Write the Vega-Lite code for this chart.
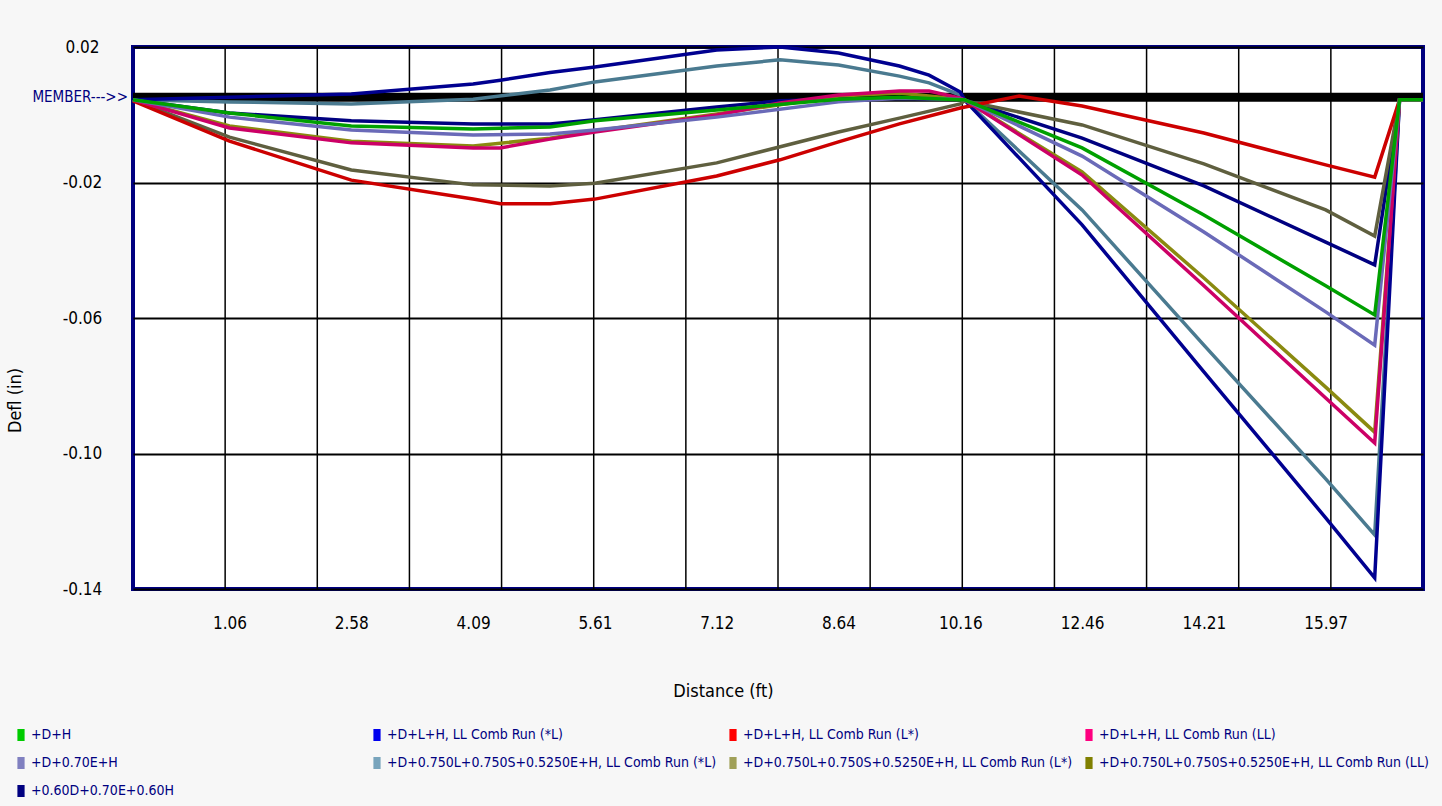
{
  "$schema": "https://vega.github.io/schema/vega-lite/v6.json",
  "width": 1290,
  "height": 542,
  "autosize": "none",
  "padding": {"left": 133, "top": 47, "right": 19, "bottom": 217},
  "background": "#f7f7f7",
  "config": {
    "view": {"fill": "#ffffff", "stroke": "#000080", "strokeWidth": 4},
    "font": "DejaVu Sans Condensed, DejaVu Sans, sans-serif",
    "axis": {"domain": false, "ticks": false, "labelColor": "#000000", "titleColor": "#000000", "titleFontWeight": "normal", "labelFont": "DejaVu Sans Condensed, DejaVu Sans, sans-serif", "titleFont": "DejaVu Sans Condensed, DejaVu Sans, sans-serif"}
  },
  "datasets": {
    "series": [
      {"s": "+0.60D+0.70E+0.60H", "d": 0, "v": 0.0044}, {"s": "+0.60D+0.70E+0.60H", "d": 1.06, "v": 0.0005}, {"s": "+0.60D+0.70E+0.60H", "d": 2.58, "v": -0.0018}, {"s": "+0.60D+0.70E+0.60H", "d": 4.09, "v": -0.0027}, {"s": "+0.60D+0.70E+0.60H", "d": 5.05, "v": -0.0027}, {"s": "+0.60D+0.70E+0.60H", "d": 5.61, "v": -0.0015}, {"s": "+0.60D+0.70E+0.60H", "d": 7.12, "v": 0.0023}, {"s": "+0.60D+0.70E+0.60H", "d": 7.91, "v": 0.0041}, {"s": "+0.60D+0.70E+0.60H", "d": 8.64, "v": 0.0046}, {"s": "+0.60D+0.70E+0.60H", "d": 9.4, "v": 0.0049}, {"s": "+0.60D+0.70E+0.60H", "d": 10.16, "v": 0.0046}, {"s": "+0.60D+0.70E+0.60H", "d": 10.24, "v": 0.0044}, {"s": "+0.60D+0.70E+0.60H", "d": 12.46, "v": -0.0069}, {"s": "+0.60D+0.70E+0.60H", "d": 14.21, "v": -0.021}, {"s": "+0.60D+0.70E+0.60H", "d": 15.97, "v": -0.0376}, {"s": "+0.60D+0.70E+0.60H", "d": 16.68, "v": -0.0443}, {"s": "+0.60D+0.70E+0.60H", "d": 17.04, "v": 0.0044}, {"s": "+0.60D+0.70E+0.60H", "d": 17.38, "v": 0.0044},

      {"s": "+D+0.750L+0.750S+0.5250E+H, LL Comb Run (*L)", "d": 0, "v": 0.0044}, {"s": "+D+0.750L+0.750S+0.5250E+H, LL Comb Run (*L)", "d": 1.06, "v": 0.0038}, {"s": "+D+0.750L+0.750S+0.5250E+H, LL Comb Run (*L)", "d": 2.58, "v": 0.0032}, {"s": "+D+0.750L+0.750S+0.5250E+H, LL Comb Run (*L)", "d": 4.09, "v": 0.0046}, {"s": "+D+0.750L+0.750S+0.5250E+H, LL Comb Run (*L)", "d": 5.05, "v": 0.0073}, {"s": "+D+0.750L+0.750S+0.5250E+H, LL Comb Run (*L)", "d": 5.61, "v": 0.0097}, {"s": "+D+0.750L+0.750S+0.5250E+H, LL Comb Run (*L)", "d": 7.12, "v": 0.0144}, {"s": "+D+0.750L+0.750S+0.5250E+H, LL Comb Run (*L)", "d": 7.91, "v": 0.0162}, {"s": "+D+0.750L+0.750S+0.5250E+H, LL Comb Run (*L)", "d": 8.64, "v": 0.0147}, {"s": "+D+0.750L+0.750S+0.5250E+H, LL Comb Run (*L)", "d": 9.4, "v": 0.0114}, {"s": "+D+0.750L+0.750S+0.5250E+H, LL Comb Run (*L)", "d": 9.77, "v": 0.0094}, {"s": "+D+0.750L+0.750S+0.5250E+H, LL Comb Run (*L)", "d": 10.16, "v": 0.0058}, {"s": "+D+0.750L+0.750S+0.5250E+H, LL Comb Run (*L)", "d": 10.24, "v": 0.0044}, {"s": "+D+0.750L+0.750S+0.5250E+H, LL Comb Run (*L)", "d": 12.46, "v": -0.0281}, {"s": "+D+0.750L+0.750S+0.5250E+H, LL Comb Run (*L)", "d": 14.21, "v": -0.068}, {"s": "+D+0.750L+0.750S+0.5250E+H, LL Comb Run (*L)", "d": 15.97, "v": -0.1075}, {"s": "+D+0.750L+0.750S+0.5250E+H, LL Comb Run (*L)", "d": 16.68, "v": -0.124}, {"s": "+D+0.750L+0.750S+0.5250E+H, LL Comb Run (*L)", "d": 17.04, "v": 0.0044}, {"s": "+D+0.750L+0.750S+0.5250E+H, LL Comb Run (*L)", "d": 17.38, "v": 0.0044},

      {"s": "+D+L+H, LL Comb Run (*L)", "d": 0, "v": 0.0044}, {"s": "+D+L+H, LL Comb Run (*L)", "d": 1.06, "v": 0.0052}, {"s": "+D+L+H, LL Comb Run (*L)", "d": 2.58, "v": 0.0061}, {"s": "+D+L+H, LL Comb Run (*L)", "d": 4.09, "v": 0.0091}, {"s": "+D+L+H, LL Comb Run (*L)", "d": 4.43, "v": 0.0102}, {"s": "+D+L+H, LL Comb Run (*L)", "d": 5.05, "v": 0.0125}, {"s": "+D+L+H, LL Comb Run (*L)", "d": 5.61, "v": 0.0141}, {"s": "+D+L+H, LL Comb Run (*L)", "d": 7.12, "v": 0.0191}, {"s": "+D+L+H, LL Comb Run (*L)", "d": 7.91, "v": 0.02}, {"s": "+D+L+H, LL Comb Run (*L)", "d": 8.64, "v": 0.0182}, {"s": "+D+L+H, LL Comb Run (*L)", "d": 9.4, "v": 0.0144}, {"s": "+D+L+H, LL Comb Run (*L)", "d": 9.77, "v": 0.0117}, {"s": "+D+L+H, LL Comb Run (*L)", "d": 10.16, "v": 0.0067}, {"s": "+D+L+H, LL Comb Run (*L)", "d": 10.24, "v": 0.0044}, {"s": "+D+L+H, LL Comb Run (*L)", "d": 12.46, "v": -0.0325}, {"s": "+D+L+H, LL Comb Run (*L)", "d": 14.21, "v": -0.0759}, {"s": "+D+L+H, LL Comb Run (*L)", "d": 15.97, "v": -0.119}, {"s": "+D+L+H, LL Comb Run (*L)", "d": 16.68, "v": -0.1367}, {"s": "+D+L+H, LL Comb Run (*L)", "d": 17.04, "v": 0.0044}, {"s": "+D+L+H, LL Comb Run (*L)", "d": 17.38, "v": 0.0044},

      {"s": "+D+0.750L+0.750S+0.5250E+H, LL Comb Run (L*)", "d": 0, "v": 0.0044}, {"s": "+D+0.750L+0.750S+0.5250E+H, LL Comb Run (L*)", "d": 1.06, "v": -0.0066}, {"s": "+D+0.750L+0.750S+0.5250E+H, LL Comb Run (L*)", "d": 2.58, "v": -0.0163}, {"s": "+D+0.750L+0.750S+0.5250E+H, LL Comb Run (L*)", "d": 4.09, "v": -0.0207}, {"s": "+D+0.750L+0.750S+0.5250E+H, LL Comb Run (L*)", "d": 5.05, "v": -0.021}, {"s": "+D+0.750L+0.750S+0.5250E+H, LL Comb Run (L*)", "d": 5.61, "v": -0.0202}, {"s": "+D+0.750L+0.750S+0.5250E+H, LL Comb Run (L*)", "d": 7.12, "v": -0.0142}, {"s": "+D+0.750L+0.750S+0.5250E+H, LL Comb Run (L*)", "d": 8.64, "v": -0.0051}, {"s": "+D+0.750L+0.750S+0.5250E+H, LL Comb Run (L*)", "d": 9.4, "v": -0.001}, {"s": "+D+0.750L+0.750S+0.5250E+H, LL Comb Run (L*)", "d": 10.16, "v": 0.0032}, {"s": "+D+0.750L+0.750S+0.5250E+H, LL Comb Run (L*)", "d": 10.24, "v": 0.0041}, {"s": "+D+0.750L+0.750S+0.5250E+H, LL Comb Run (L*)", "d": 12.46, "v": -0.003}, {"s": "+D+0.750L+0.750S+0.5250E+H, LL Comb Run (L*)", "d": 14.21, "v": -0.0145}, {"s": "+D+0.750L+0.750S+0.5250E+H, LL Comb Run (L*)", "d": 15.97, "v": -0.0281}, {"s": "+D+0.750L+0.750S+0.5250E+H, LL Comb Run (L*)", "d": 16.68, "v": -0.0358}, {"s": "+D+0.750L+0.750S+0.5250E+H, LL Comb Run (L*)", "d": 17.04, "v": 0.0044}, {"s": "+D+0.750L+0.750S+0.5250E+H, LL Comb Run (L*)", "d": 17.38, "v": 0.0044},

      {"s": "+D+L+H, LL Comb Run (L*)", "d": 0, "v": 0.0041}, {"s": "+D+L+H, LL Comb Run (L*)", "d": 1.06, "v": -0.0078}, {"s": "+D+L+H, LL Comb Run (L*)", "d": 2.58, "v": -0.0193}, {"s": "+D+L+H, LL Comb Run (L*)", "d": 4.09, "v": -0.0249}, {"s": "+D+L+H, LL Comb Run (L*)", "d": 4.43, "v": -0.0263}, {"s": "+D+L+H, LL Comb Run (L*)", "d": 5.05, "v": -0.0263}, {"s": "+D+L+H, LL Comb Run (L*)", "d": 5.61, "v": -0.0249}, {"s": "+D+L+H, LL Comb Run (L*)", "d": 7.12, "v": -0.0181}, {"s": "+D+L+H, LL Comb Run (L*)", "d": 7.91, "v": -0.0133}, {"s": "+D+L+H, LL Comb Run (L*)", "d": 8.64, "v": -0.008}, {"s": "+D+L+H, LL Comb Run (L*)", "d": 9.4, "v": -0.0027}, {"s": "+D+L+H, LL Comb Run (L*)", "d": 10.16, "v": 0.002}, {"s": "+D+L+H, LL Comb Run (L*)", "d": 10.91, "v": 0.0044}, {"s": "+D+L+H, LL Comb Run (L*)", "d": 11.27, "v": 0.0055}, {"s": "+D+L+H, LL Comb Run (L*)", "d": 12.46, "v": 0.0026}, {"s": "+D+L+H, LL Comb Run (L*)", "d": 14.21, "v": -0.0054}, {"s": "+D+L+H, LL Comb Run (L*)", "d": 15.97, "v": -0.0148}, {"s": "+D+L+H, LL Comb Run (L*)", "d": 16.68, "v": -0.0184}, {"s": "+D+L+H, LL Comb Run (L*)", "d": 17.04, "v": 0.0044}, {"s": "+D+L+H, LL Comb Run (L*)", "d": 17.38, "v": 0.0044},

      {"s": "+D+0.750L+0.750S+0.5250E+H, LL Comb Run (LL)", "d": 0, "v": 0.0044}, {"s": "+D+0.750L+0.750S+0.5250E+H, LL Comb Run (LL)", "d": 1.06, "v": -0.0033}, {"s": "+D+0.750L+0.750S+0.5250E+H, LL Comb Run (LL)", "d": 2.58, "v": -0.0078}, {"s": "+D+0.750L+0.750S+0.5250E+H, LL Comb Run (LL)", "d": 4.09, "v": -0.0092}, {"s": "+D+0.750L+0.750S+0.5250E+H, LL Comb Run (LL)", "d": 5.05, "v": -0.0069}, {"s": "+D+0.750L+0.750S+0.5250E+H, LL Comb Run (LL)", "d": 5.61, "v": -0.0048}, {"s": "+D+0.750L+0.750S+0.5250E+H, LL Comb Run (LL)", "d": 7.12, "v": 0.0002}, {"s": "+D+0.750L+0.750S+0.5250E+H, LL Comb Run (LL)", "d": 8.64, "v": 0.0055}, {"s": "+D+0.750L+0.750S+0.5250E+H, LL Comb Run (LL)", "d": 9.4, "v": 0.0064}, {"s": "+D+0.750L+0.750S+0.5250E+H, LL Comb Run (LL)", "d": 10.16, "v": 0.0046}, {"s": "+D+0.750L+0.750S+0.5250E+H, LL Comb Run (LL)", "d": 10.24, "v": 0.0044}, {"s": "+D+0.750L+0.750S+0.5250E+H, LL Comb Run (LL)", "d": 12.46, "v": -0.0169}, {"s": "+D+0.750L+0.750S+0.5250E+H, LL Comb Run (LL)", "d": 14.21, "v": -0.0482}, {"s": "+D+0.750L+0.750S+0.5250E+H, LL Comb Run (LL)", "d": 15.97, "v": -0.0804}, {"s": "+D+0.750L+0.750S+0.5250E+H, LL Comb Run (LL)", "d": 16.68, "v": -0.0937}, {"s": "+D+0.750L+0.750S+0.5250E+H, LL Comb Run (LL)", "d": 17.04, "v": 0.0044}, {"s": "+D+0.750L+0.750S+0.5250E+H, LL Comb Run (LL)", "d": 17.38, "v": 0.0044},

      {"s": "+D+L+H, LL Comb Run (LL)", "d": 0, "v": 0.0044}, {"s": "+D+L+H, LL Comb Run (LL)", "d": 1.06, "v": -0.0039}, {"s": "+D+L+H, LL Comb Run (LL)", "d": 2.58, "v": -0.0083}, {"s": "+D+L+H, LL Comb Run (LL)", "d": 4.09, "v": -0.0098}, {"s": "+D+L+H, LL Comb Run (LL)", "d": 4.43, "v": -0.0098}, {"s": "+D+L+H, LL Comb Run (LL)", "d": 5.05, "v": -0.0072}, {"s": "+D+L+H, LL Comb Run (LL)", "d": 5.61, "v": -0.0051}, {"s": "+D+L+H, LL Comb Run (LL)", "d": 7.12, "v": -0.0001}, {"s": "+D+L+H, LL Comb Run (LL)", "d": 7.91, "v": 0.0035}, {"s": "+D+L+H, LL Comb Run (LL)", "d": 8.64, "v": 0.0058}, {"s": "+D+L+H, LL Comb Run (LL)", "d": 9.4, "v": 0.007}, {"s": "+D+L+H, LL Comb Run (LL)", "d": 9.77, "v": 0.007}, {"s": "+D+L+H, LL Comb Run (LL)", "d": 10.16, "v": 0.0049}, {"s": "+D+L+H, LL Comb Run (LL)", "d": 10.24, "v": 0.0044}, {"s": "+D+L+H, LL Comb Run (LL)", "d": 12.46, "v": -0.0178}, {"s": "+D+L+H, LL Comb Run (LL)", "d": 14.21, "v": -0.0505}, {"s": "+D+L+H, LL Comb Run (LL)", "d": 15.97, "v": -0.0836}, {"s": "+D+L+H, LL Comb Run (LL)", "d": 16.68, "v": -0.0969}, {"s": "+D+L+H, LL Comb Run (LL)", "d": 17.04, "v": 0.0044}, {"s": "+D+L+H, LL Comb Run (LL)", "d": 17.38, "v": 0.0044},

      {"s": "+D+0.70E+H", "d": 0, "v": 0.0044}, {"s": "+D+0.70E+H", "d": 1.06, "v": -0.0007}, {"s": "+D+0.70E+H", "d": 2.58, "v": -0.0045}, {"s": "+D+0.70E+H", "d": 4.09, "v": -0.006}, {"s": "+D+0.70E+H", "d": 5.05, "v": -0.0057}, {"s": "+D+0.70E+H", "d": 5.61, "v": -0.0045}, {"s": "+D+0.70E+H", "d": 7.12, "v": -0.0007}, {"s": "+D+0.70E+H", "d": 8.64, "v": 0.0038}, {"s": "+D+0.70E+H", "d": 9.4, "v": 0.0049}, {"s": "+D+0.70E+H", "d": 10.16, "v": 0.0046}, {"s": "+D+0.70E+H", "d": 10.24, "v": 0.0044}, {"s": "+D+0.70E+H", "d": 12.46, "v": -0.0122}, {"s": "+D+0.70E+H", "d": 14.21, "v": -0.0346}, {"s": "+D+0.70E+H", "d": 15.97, "v": -0.0582}, {"s": "+D+0.70E+H", "d": 16.68, "v": -0.068}, {"s": "+D+0.70E+H", "d": 17.04, "v": 0.0044}, {"s": "+D+0.70E+H", "d": 17.38, "v": 0.0044},

      {"s": "+D+H", "d": 0, "v": 0.0044}, {"s": "+D+H", "d": 1.06, "v": 0.0005}, {"s": "+D+H", "d": 2.58, "v": -0.0033}, {"s": "+D+H", "d": 4.09, "v": -0.0042}, {"s": "+D+H", "d": 5.05, "v": -0.0036}, {"s": "+D+H", "d": 5.61, "v": -0.0018}, {"s": "+D+H", "d": 7.12, "v": 0.0014}, {"s": "+D+H", "d": 8.64, "v": 0.0046}, {"s": "+D+H", "d": 9.4, "v": 0.0052}, {"s": "+D+H", "d": 10.16, "v": 0.0044}, {"s": "+D+H", "d": 10.24, "v": 0.0044}, {"s": "+D+H", "d": 12.46, "v": -0.0098}, {"s": "+D+H", "d": 14.21, "v": -0.0296}, {"s": "+D+H", "d": 15.97, "v": -0.0505}, {"s": "+D+H", "d": 16.68, "v": -0.0591}, {"s": "+D+H", "d": 17.04, "v": 0.0044}, {"s": "+D+H", "d": 17.38, "v": 0.0044}
    ]
  },
  "layer": [
    {
      "data": {"values": [{"g": 1}, {"g": 2}, {"g": 3}, {"g": 4}, {"g": 5}, {"g": 6}, {"g": 7}, {"g": 8}, {"g": 9}, {"g": 10}, {"g": 11}, {"g": 12}, {"g": 13}]},
      "mark": {"type": "rule", "color": "#000000", "strokeWidth": 1.5},
      "encoding": {
        "x": {"field": "g", "type": "quantitative", "scale": {"domain": [0, 14], "nice": false, "zero": false}, "axis": null}
      }
    },
    {
      "layer": [
        {
          "data": {"values": [{"m": 0.0052}]},
          "mark": {"type": "rule", "color": "#000000", "strokeWidth": 9},
          "encoding": {"y": {"field": "m", "type": "quantitative"}}
        },
        {
          "data": {"name": "series"},
          "mark": {"type": "line", "strokeWidth": 3.5, "interpolate": "linear"},
          "encoding": {
            "x": {
              "field": "d", "type": "quantitative", "title": "Distance (ft)",
              "scale": {"domain": [0, 1.06, 2.58, 4.09, 5.61, 7.12, 8.64, 10.16, 12.46, 14.21, 15.97, 17.38], "range": [0, 96.5, 218.3, 340.1, 461.9, 583.7, 705.5, 827.3, 949.1, 1070.9, 1192.7, 1290], "nice": false, "zero": false},
              "axis": {"values": [1.06, 2.58, 4.09, 5.61, 7.12, 8.64, 10.16, 12.46, 14.21, 15.97], "format": ".2f", "grid": false, "labelFontSize": 17, "labelPadding": 26, "titleFontSize": 18, "titleX": 590, "titleY": 102, "titleBaseline": "middle", "titleAlign": "center"}
            },
            "y": {
              "field": "v", "type": "quantitative", "title": "Defl (in)",
              "scale": {"domain": [-0.14, 0.02], "nice": false, "zero": false},
              "axis": {"values": [0.02, -0.02, -0.06, -0.1, -0.14], "labelExpr": "datum.value < 0 ? '-' + format(-datum.value, '.2f') : format(datum.value, '.2f')", "grid": true, "gridColor": "#000000", "gridWidth": 2, "gridOpacity": 1, "labelFontSize": 17, "labelAlign": "center", "labelPadding": 51, "titleFontSize": 18, "titleX": -118, "titleY": 353, "titleAngle": -90, "titleBaseline": "middle", "titleAlign": "center"}
            },
            "stroke": {
              "field": "s", "type": "nominal", "legend": null,
              "scale": {
                "domain": ["+0.60D+0.70E+0.60H", "+D+0.750L+0.750S+0.5250E+H, LL Comb Run (*L)", "+D+L+H, LL Comb Run (*L)", "+D+0.750L+0.750S+0.5250E+H, LL Comb Run (L*)", "+D+L+H, LL Comb Run (L*)", "+D+0.750L+0.750S+0.5250E+H, LL Comb Run (LL)", "+D+L+H, LL Comb Run (LL)", "+D+0.70E+H", "+D+H"],
                "range": ["#000080", "#4a7a90", "#000090", "#5f5f3f", "#cc0000", "#8a8a10", "#cc0066", "#6a6ab8", "#00a000"]
              }
            }
          }
        },
        {
          "data": {"name": "series"},
          "transform": [{"filter": "datum.v > 1"}],
          "mark": {"type": "square", "filled": true, "opacity": 1},
          "encoding": {
            "x": {"field": "d", "type": "quantitative"},
            "y": {"field": "v", "type": "quantitative"},
            "fill": {
              "field": "s", "type": "nominal",
              "scale": {
                "domain": ["+D+H", "+D+L+H, LL Comb Run (*L)", "+D+L+H, LL Comb Run (L*)", "+D+L+H, LL Comb Run (LL)", "+D+0.70E+H", "+D+0.750L+0.750S+0.5250E+H, LL Comb Run (*L)", "+D+0.750L+0.750S+0.5250E+H, LL Comb Run (L*)", "+D+0.750L+0.750S+0.5250E+H, LL Comb Run (LL)", "+0.60D+0.70E+0.60H"],
                "range": ["#00cc00", "#0000ee", "#ff0000", "#ff0080", "#8080c0", "#78a4bc", "#a0a058", "#808000", "#000080"]
              },
              "legend": {
                "title": null, "orient": "none", "legendX": -119, "legendY": 681, "padding": 0,
                "direction": "horizontal", "columns": 4, "gridAlign": "all", "columnPadding": 9, "rowPadding": 14,
                "symbolType": "M-0.6,-1H0.6V1H-0.6Z", "symbolSize": 144, "symbolStrokeWidth": 0, "symbolOpacity": 1,
                "labelFont": "DejaVu Sans Condensed, DejaVu Sans, sans-serif", "labelFontSize": 14, "labelColor": "#000080", "labelOffset": 3, "labelLimit": 1000
              }
            }
          }
        },
        {
          "data": {"values": [{"d": 0, "v": 0.0052, "t": "MEMBER--->>"}]},
          "mark": {"type": "text", "align": "right", "baseline": "middle", "dx": -5, "color": "#000080", "fontSize": 15, "font": "DejaVu Sans Condensed, DejaVu Sans, sans-serif"},
          "encoding": {
            "x": {"field": "d", "type": "quantitative"},
            "y": {"field": "v", "type": "quantitative"},
            "text": {"field": "t"}
          }
        }
      ]
    }
  ],
  "resolve": {"scale": {"x": "independent"}}
}
